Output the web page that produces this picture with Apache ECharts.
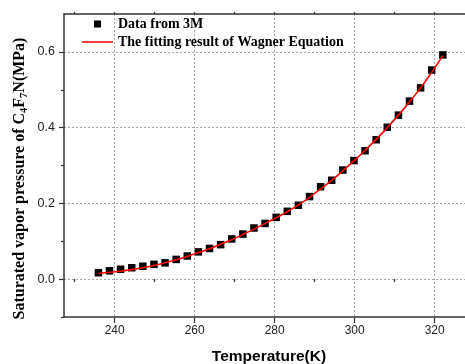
<!DOCTYPE html>
<html><head><meta charset="utf-8">
<script src="https://cdn.jsdelivr.net/npm/echarts@6/dist/echarts.min.js"></script>
<style>html,body{margin:0;padding:0;background:#fff}#c{width:465px;height:364px}</style>
</head><body><div id="c"></div>
<script>
const temperatureK = [235.93, 238.71, 241.48, 244.26, 247.04, 249.82, 252.59, 255.37, 258.15, 260.93, 263.71, 266.48, 269.26, 272.04, 274.82, 277.59, 280.37, 283.15, 285.93, 288.71, 291.48, 294.26, 297.04, 299.82, 302.59, 305.37, 308.15, 310.93, 313.71, 316.48, 319.26, 322.04];
const pressure3M = [0.017, 0.022, 0.026, 0.030, 0.034, 0.039, 0.043, 0.052, 0.061, 0.072, 0.081, 0.091, 0.106, 0.119, 0.135, 0.147, 0.163, 0.179, 0.195, 0.218, 0.244, 0.261, 0.288, 0.313, 0.339, 0.368, 0.401, 0.433, 0.470, 0.505, 0.552, 0.592];
const fitPressure = [0.015, 0.018, 0.021, 0.025, 0.030, 0.036, 0.043, 0.051, 0.060, 0.070, 0.080, 0.092, 0.104, 0.118, 0.132, 0.147, 0.162, 0.178, 0.196, 0.216, 0.238, 0.261, 0.286, 0.312, 0.340, 0.369, 0.400, 0.433, 0.468, 0.505, 0.546, 0.590];
const xMajorTicks = [240, 260, 280, 300, 320];
const xMinorTicks = [230, 250, 270, 290, 310];
const xAllTicks = [230, 240, 250, 260, 270, 280, 290, 300, 310, 320];
const yMajorTicks = [0, 0.2, 0.4, 0.6];
const yMinorTicks = [-0.1, 0.1, 0.3, 0.5];
const seriesNames = ['Data from 3M', 'The fitting result of Wagner Equation'];

const X_MIN = 227.33, X_MAX = 329.83, Y_MIN = -0.1, Y_MAX = 0.7;
const axisColor = '#333';
const gridLine = {show: true, lineStyle: {color: '#a6a6a6', type: [2, 2], width: 1}};

const chart = echarts.init(document.getElementById('c'));
chart.setOption({
  animation: false,
  backgroundColor: '#fff',
  grid: {left: 64, top: 14, width: 410, height: 303, containLabel: false, outerBoundsMode: 'none'},
  legend: {
    orient: 'vertical', left: 82, top: 17, padding: 0,
    itemWidth: 31, itemHeight: 7, itemGap: 4,
    textStyle: {fontFamily: 'Liberation Serif', fontWeight: 'bold', fontSize: 14, color: '#000', lineHeight: 14},
    data: [
      {name: seriesNames[0], icon: 'path://M0,0h10v10h-10z'},
      {name: seriesNames[1], icon: 'path://M0,0h62v3h-62z'}
    ]
  },
  xAxis: [
    {type: 'value', position: 'bottom', min: X_MIN, max: X_MAX,
     axisLine: {show: true, onZero: false, lineStyle: {color: axisColor, width: 1.5}},
     axisTick: {show: true, inside: false, length: 6, customValues: xMajorTicks, lineStyle: {color: axisColor, width: 1.2}},
     axisLabel: {customValues: xMajorTicks, margin: 8, fontFamily: 'Liberation Sans', fontSize: 12, color: '#222'},
     splitLine: gridLine,
     name: 'Temperature(K)', nameLocation: 'middle', nameGap: 32,
     nameTextStyle: {fontFamily: 'Liberation Sans', fontWeight: 'bold', fontSize: 15.5, color: '#000'}},
    {type: 'value', position: 'bottom', min: X_MIN, max: X_MAX,
     axisLine: {show: false}, axisLabel: {show: false}, splitLine: {show: false},
     axisTick: {show: true, inside: false, length: 3, customValues: xMinorTicks, lineStyle: {color: axisColor, width: 1.2}}},
    {type: 'value', position: 'top', min: X_MIN, max: X_MAX,
     axisLine: {show: true, onZero: false, lineStyle: {color: axisColor, width: 1.5}},
     axisLabel: {show: false}, splitLine: {show: false},
     axisTick: {show: true, inside: false, length: 2, customValues: xAllTicks, lineStyle: {color: axisColor, width: 1.2}}}
  ],
  yAxis: [
    {type: 'value', position: 'left', min: Y_MIN, max: Y_MAX,
     axisLine: {show: true, onZero: false, lineStyle: {color: axisColor, width: 1.5}},
     axisTick: {show: true, inside: false, length: 5, customValues: yMajorTicks, lineStyle: {color: axisColor, width: 1.2}},
     axisLabel: {customValues: yMajorTicks, margin: 9, fontFamily: 'Liberation Sans', fontSize: 12.5, color: '#222',
                 formatter: v => v.toFixed(1)},
     splitLine: gridLine},
    {type: 'value', position: 'left', min: Y_MIN, max: Y_MAX,
     axisLine: {show: false}, axisLabel: {show: false}, splitLine: {show: false},
     axisTick: {show: true, inside: false, length: 3, customValues: yMinorTicks, lineStyle: {color: axisColor, width: 1.2}}}
  ],
  graphic: [{
    type: 'text', x: 20, y: 178.5, rotation: Math.PI / 2,
    style: {
      text: '{m|Saturated vapor pressure of C}{s|4}{m|F}{s|7}{m|N(MPa)}',
      align: 'center', verticalAlign: 'middle',
      rich: {
        m: {fontFamily: 'Liberation Serif', fontWeight: 'bold', fontSize: 16, lineHeight: 20, fill: '#000', verticalAlign: 'middle'},
        s: {fontFamily: 'Liberation Serif', fontWeight: 'bold', fontSize: 10.5, lineHeight: 20, fill: '#000', verticalAlign: 'bottom'}
      }
    }
  }],
  series: [
    {name: seriesNames[0], type: 'scatter', xAxisIndex: 0, yAxisIndex: 0,
     symbol: 'rect', symbolSize: 7.5, itemStyle: {color: '#000', opacity: 1},
     data: temperatureK.map((t, i) => [t, pressure3M[i]]), z: 2},
    {name: seriesNames[1], type: 'line', xAxisIndex: 0, yAxisIndex: 0,
     symbol: 'none', smooth: 0.3, lineStyle: {color: '#ff0000', width: 1.6}, itemStyle: {color: '#ff0000'},
     data: temperatureK.map((t, i) => [t, fitPressure[i]]), z: 3}
  ]
});
</script></body></html>
